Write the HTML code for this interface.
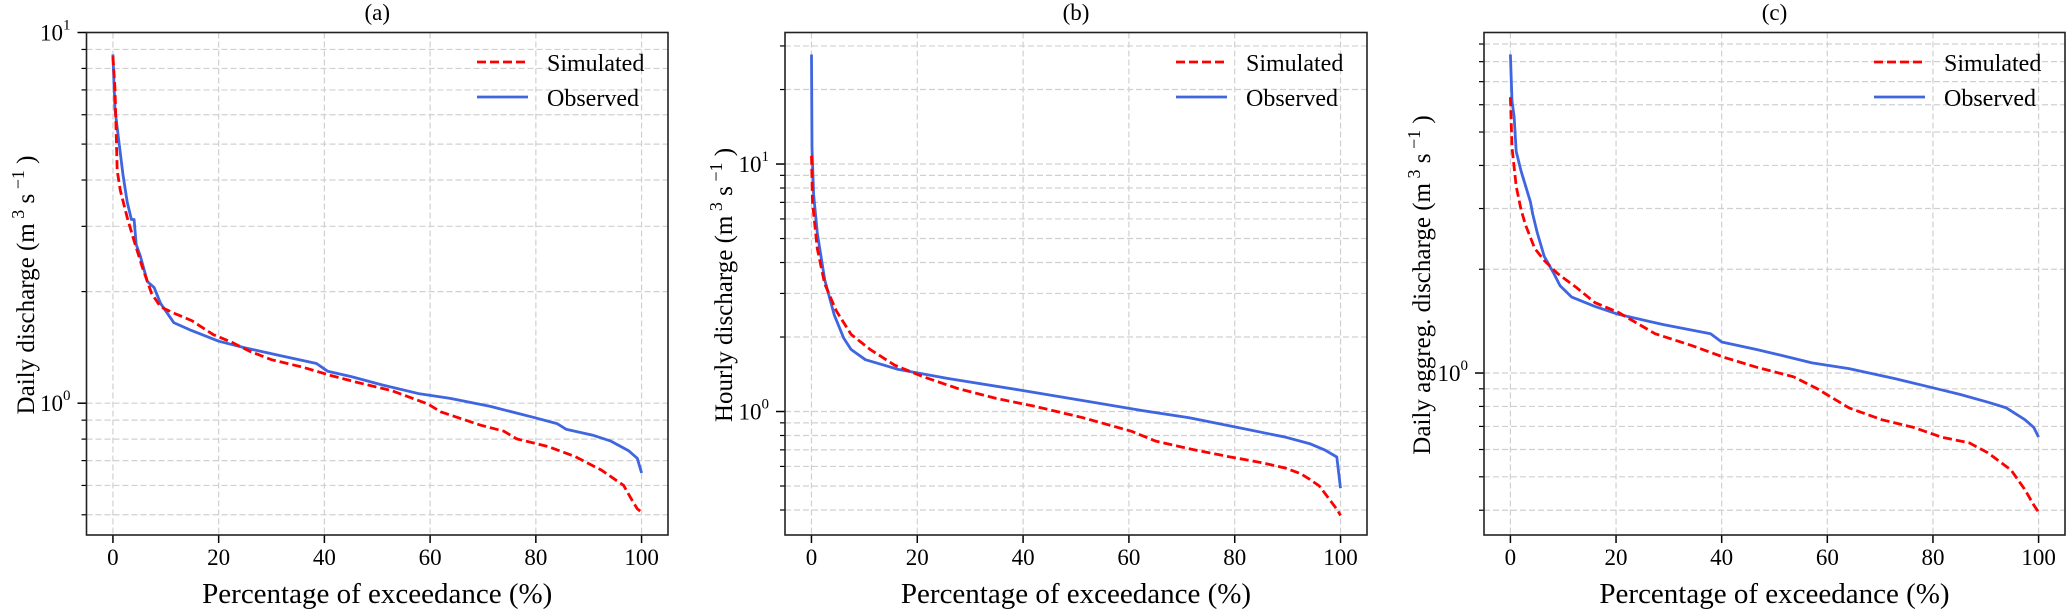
<!DOCTYPE html>
<html><head><meta charset="utf-8">
<style>
html,body{margin:0;padding:0;background:#fff;}
svg{display:block;font-family:"Liberation Serif","DejaVu Serif",serif;}
</style></head>
<body>
<svg id="fig" width="2067" height="609" viewBox="0 0 2067 609" xmlns="http://www.w3.org/2000/svg"></svg>
<script>
// ---- Panel (a) data ----
const aObsX = [0,0.4,1.0,1.9,2.7,3.5,4.0,4.4,5.2,6.5,7.8,9,11.5,14.9,20,25,31,38.5,40.6,45,51,58,63.8,71.4,79.8,84,85.7,90.7,94.1,97.5,99.2,100];
const aObsY = [8.73,6.2,5.26,4.13,3.49,3.13,3.13,2.68,2.49,2.13,2.05,1.86,1.65,1.57,1.47,1.41,1.35,1.28,1.22,1.18,1.12,1.06,1.03,0.98,0.914,0.881,0.851,0.82,0.791,0.745,0.71,0.648];
const aSimX = [0,0.4,0.8,1.4,2.7,4,5.6,7.3,9,11.5,14.9,19,22.5,25.9,30,36,41,46,52.8,59.6,62,69.7,73.9,76.4,82.3,87.4,92.4,96.6,98.3,99.2,100];
const aSimY = [8.63,7.03,4.24,3.75,3.17,2.74,2.32,1.98,1.82,1.75,1.67,1.53,1.46,1.38,1.31,1.25,1.19,1.14,1.08,0.995,0.948,0.871,0.841,0.801,0.764,0.718,0.66,0.6,0.544,0.519,0.508];
// ---- Panel (b) data ----
const bObsX = [0,0.1,0.4,1.1,2.5,4.3,6.1,7.5,10.2,16.4,25.8,39.5,53.2,62.3,71.4,80.6,89.7,94.3,97,99.3,100];
const bObsY = [27.7,11.6,7.55,5.26,3.41,2.46,1.98,1.78,1.62,1.48,1.36,1.22,1.09,1.01,0.944,0.862,0.787,0.74,0.7,0.655,0.49];
const bSimX = [0,0.2,1.1,2.5,4.7,7.5,11.1,15.7,21.2,27.6,34.9,42.2,51.3,60.5,65,71.4,78.7,85,89.7,92.5,94.3,96,99.4,100];
const bSimY = [10.8,7.0,4.55,3.28,2.55,2.05,1.78,1.54,1.38,1.24,1.13,1.05,0.944,0.832,0.76,0.707,0.658,0.622,0.59,0.56,0.53,0.5,0.4,0.38];
// ---- Panel (c) data ----
const cObsX = [0,0.3,0.7,1.1,2,2.9,3.8,4.2,5.1,6.4,8.1,9.4,11.6,16,20.4,29.1,37.9,40,46.6,51.9,57.1,64.1,72.9,80,85.1,90.4,93.9,97.4,99.1,100];
const cObsY = [8.4,6.15,5.55,4.39,3.86,3.48,3.13,2.9,2.55,2.18,1.96,1.79,1.66,1.56,1.48,1.38,1.3,1.23,1.17,1.12,1.07,1.03,0.962,0.906,0.867,0.823,0.792,0.732,0.695,0.652];
const cSimX = [0,0.3,1.1,2,2.9,4.6,6.4,9,12.5,16,20.4,27.4,34.4,40.5,46.6,53.6,58,64.1,70.3,76.4,81.6,86.9,90.4,94.8,97.4,99.1,100];
const cSimY = [6.31,4.51,3.48,2.98,2.68,2.3,2.12,1.94,1.77,1.6,1.5,1.3,1.2,1.11,1.04,0.975,0.902,0.792,0.732,0.695,0.652,0.627,0.587,0.523,0.459,0.414,0.395];
const xTicks = [0,20,40,60,80,100];
const panelTitles = ["(a)","(b)","(c)"];
const yLabels = ["Daily discharge","Hourly discharge","Daily aggreg. discharge"];

const NS="http://www.w3.org/2000/svg";
const svg=document.getElementById('fig');
function mk(tag,attrs,parent){const e=document.createElementNS(NS,tag);for(const k in attrs)e.setAttribute(k,attrs[k]);(parent||svg).appendChild(e);return e;}

const panels=[
 {x0:86.5,x1:668,ymin:0.441,ymax:10,obsX:aObsX,obsY:aObsY,simX:aSimX,simY:aSimY,labX:26,key:'a'},
 {x0:785,x1:1367,ymin:0.317,ymax:34,obsX:bObsX,obsY:bObsY,simX:bSimX,simY:bSimY,labX:724,key:'b'},
 {x0:1484,x1:2065,ymin:0.339,ymax:9.72,obsX:cObsX,obsY:cObsY,simX:cSimX,simY:cSimY,labX:1422,key:'c'}
];
const plotTop=32.5,plotBot=535;

panels.forEach((p,i)=>{
 const g=mk('g',{});
 
 
 const xs=v=>p.x0+(v+5)/110*(p.x1-p.x0);
 const ys=v=>plotBot-(Math.log10(v)-Math.log10(p.ymin))/(Math.log10(p.ymax)-Math.log10(p.ymin))*(plotBot-plotTop);
 const lo=Math.floor(Math.log10(p.ymin)),hi=Math.ceil(Math.log10(p.ymax));
 for(let d=lo;d<=hi;d++){for(let m=1;m<10;m++){const v=m*Math.pow(10,d);if(v<p.ymin*0.999||v>p.ymax*1.001)continue;const y=ys(v);
  const gl=mk('line',{x1:p.x0,x2:p.x1,y1:y,y2:y,stroke:'#d0d0d0','stroke-width':1.2,'stroke-dasharray':'6,3'},g);
  
  
  const tk=mk('line',{x1:p.x0,x2:p.x0-(m===1?9:5),y1:y,y2:y,stroke:'#000','stroke-width':m===1?1.5:1.2},g);
  
  
  if(m===1){const t=mk('text',{x:p.x0-16,y:y+8,'font-size':23,'text-anchor':'end'},g);
   
   
   t.textContent='10';
   const s=mk('tspan',{dy:-11,'font-size':15},t);s.textContent=String(d);}
 }}
 xTicks.forEach(v=>{const x=xs(v);
  const gl=mk('line',{x1:x,x2:x,y1:plotTop,y2:plotBot,stroke:'#d0d0d0','stroke-width':1.2,'stroke-dasharray':'6,3'},g);
  
  
  const tk=mk('line',{x1:x,x2:x,y1:plotBot,y2:plotBot+8,stroke:'#000','stroke-width':1.5},g);
  
  
  const t=mk('text',{x:x,y:565,'font-size':23,'text-anchor':'middle'},g);
  
  
  t.textContent=String(v);
 });
 const path=(X,Y)=>X.map((v,k)=>(k?'L':'M')+xs(v).toFixed(1)+','+ys(Y[k]).toFixed(1)).join(' ');
 const obs=mk('path',{d:path(p.obsX,p.obsY),fill:'none',stroke:'#3f66e0','stroke-width':2.8,'stroke-linejoin':'round'},g);
 
 
 const sim=mk('path',{d:path(p.simX,p.simY),fill:'none',stroke:'#ff0000','stroke-width':2.8,'stroke-dasharray':'9,4'},g);
 
 
 const fr=mk('rect',{x:p.x0,y:plotTop,width:p.x1-p.x0,height:plotBot-plotTop,fill:'none',stroke:'#222','stroke-width':1.6},g);
 
 
 const tt=mk('text',{x:(p.x0+p.x1)/2,y:20,'font-size':23,'text-anchor':'middle'},g);
 
 
 tt.textContent=panelTitles[i];
 const xl=mk('text',{x:(p.x0+p.x1)/2,y:603,'font-size':29,'text-anchor':'middle'},g);
 
 
 xl.textContent='Percentage of exceedance (%)';
 const yl=mk('text',{x:0,y:0,'font-size':25,'text-anchor':'middle',transform:`translate(${p.labX+8},285) rotate(-90)`},g);
 
 
 yl.appendChild(document.createTextNode(yLabels[i]+' (m'));
 const s1=mk('tspan',{dy:-10,'font-size':18},yl);s1.textContent=' 3';
 const s2=mk('tspan',{dy:10},yl);s2.textContent=' s';
 const s3=mk('tspan',{dy:-10,'font-size':18},yl);s3.textContent=' \u22121';
 const s4=mk('tspan',{dy:10},yl);s4.textContent=' )';
 const lg=mk('g',{},g);
 
 
 const lx=p.x1-191;
 const l1=mk('line',{x1:lx,x2:lx+51,y1:62,y2:62,stroke:'#ff0000','stroke-width':2.8,'stroke-dasharray':'9,4'},lg);
 
 
 const t1=mk('text',{x:lx+70,y:71,'font-size':24},lg);t1.textContent='Simulated';
 
 
 const l2=mk('line',{x1:lx,x2:lx+51,y1:97,y2:97,stroke:'#3f66e0','stroke-width':2.8},lg);
 
 
 const t2=mk('text',{x:lx+70,y:106,'font-size':24},lg);t2.textContent='Observed';
 
 
});
</script>
</body></html>
